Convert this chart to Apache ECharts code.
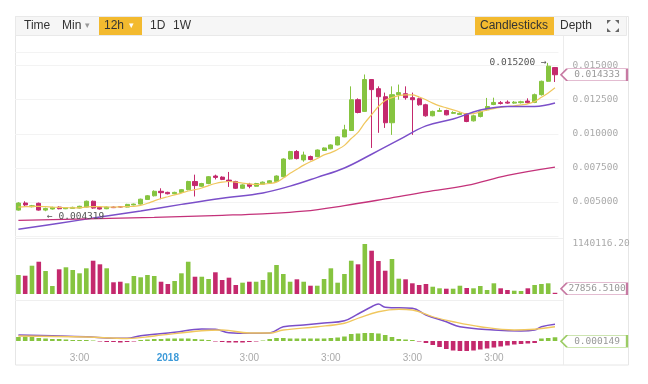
<!DOCTYPE html>
<html><head><meta charset="utf-8">
<script src="https://cdn.jsdelivr.net/npm/echarts/dist/echarts.min.js"></script>
<style>html,body{margin:0;padding:0;background:#fff}#c{width:648px;height:384px}</style>
</head><body><div id="c"></div>
<script>
// ---- data ----
const opens  = [0.00440,0.00492,0.00465,0.00490,0.00440,0.00448,0.00462,0.00450,0.00452,0.00455,
0.00462,0.00505,0.00460,0.00450,0.00462,0.00466,0.00462,0.00478,0.00484,0.00518,
0.00545,0.00578,0.00570,0.00560,0.00570,0.00590,0.00650,0.00615,0.00635,0.00690,
0.00682,0.00660,0.00650,0.00600,0.00630,0.00615,0.00630,0.00640,0.00650,0.00685,
0.00815,0.00870,0.00808,0.00833,0.00832,0.00878,0.00890,0.00918,0.00977,0.01024,
0.01250,0.01164,0.01398,0.01331,0.01272,0.01081,0.01287,0.01294,0.01265,0.01257,
0.01213,0.01132,0.01164,0.01171,0.01150,0.01142,0.01147,0.01095,0.01127,0.01176,
0.01215,0.01228,0.01232,0.01225,0.01228,0.01240,0.01230,0.01287,0.01385,0.01486];
const closes = [0.00492,0.00478,0.00472,0.00440,0.00452,0.00460,0.00450,0.00458,0.00460,0.00468,
0.00505,0.00455,0.00448,0.00462,0.00458,0.00462,0.00482,0.00484,0.00520,0.00545,
0.00578,0.00568,0.00560,0.00570,0.00590,0.00650,0.00620,0.00635,0.00685,0.00680,
0.00665,0.00652,0.00600,0.00625,0.00615,0.00635,0.00645,0.00655,0.00690,0.00815,
0.00870,0.00818,0.00844,0.00811,0.00881,0.00896,0.00918,0.00977,0.01029,0.01250,
0.01156,0.01398,0.01324,0.01272,0.01081,0.01287,0.01302,0.01265,0.01250,0.01213,
0.01132,0.01164,0.01171,0.01139,0.01156,0.01150,0.01090,0.01132,0.01164,0.01200,
0.01230,0.01222,0.01225,0.01232,0.01235,0.01228,0.01287,0.01385,0.01496,0.014333];
const lows   = [0.00436,0.00470,0.00460,0.00436,0.004319,0.00444,0.00446,0.00447,0.00449,0.00452,
0.00458,0.00450,0.00444,0.00447,0.00455,0.00458,0.00460,0.00475,0.00480,0.00515,
0.00540,0.00520,0.00555,0.00556,0.00566,0.00585,0.00540,0.00610,0.00630,0.00665,
0.00660,0.00610,0.00595,0.00595,0.00600,0.00612,0.00628,0.00635,0.00645,0.00680,
0.00810,0.00812,0.00795,0.00805,0.00828,0.00875,0.00886,0.00915,0.00975,0.01020,
0.01150,0.01160,0.00896,0.01007,0.01043,0.00992,0.01250,0.01250,0.00992,0.01206,
0.01125,0.01128,0.01160,0.01135,0.01145,0.01138,0.01085,0.01090,0.01120,0.01170,
0.01210,0.01215,0.01220,0.01220,0.01222,0.01222,0.01225,0.01280,0.01380,0.01380];
const highs  = [0.00498,0.00505,0.00478,0.00495,0.00458,0.00465,0.00468,0.00462,0.00465,0.00472,
0.00510,0.00510,0.00465,0.00466,0.00466,0.00470,0.00486,0.00488,0.00524,0.00550,
0.00585,0.00600,0.00575,0.00575,0.00595,0.00655,0.00700,0.00640,0.00690,0.00700,
0.00688,0.00720,0.00655,0.00630,0.00640,0.00640,0.00650,0.00660,0.00695,0.00820,
0.00875,0.00880,0.00869,0.00840,0.00885,0.00900,0.00922,0.00982,0.01066,0.01348,
0.01260,0.01435,0.01400,0.01348,0.01302,0.01348,0.01361,0.01348,0.01302,0.01265,
0.01220,0.01170,0.01190,0.01176,0.01165,0.01158,0.01150,0.01140,0.01170,0.01263,
0.01265,0.01240,0.01245,0.01240,0.01242,0.01260,0.01295,0.01390,0.01520,0.01490];
const volumes = [433000,417000,645000,736000,524000,182000,563000,609000,547000,472000,
586000,759000,677000,586000,267000,280000,244000,410000,381000,433000,
410000,280000,228000,296000,472000,736000,394000,394000,342000,495000,
319000,372000,205000,258000,280000,280000,319000,495000,661000,456000,
280000,335000,280000,189000,189000,342000,586000,258000,456000,759000,
677000,1140116.2,987000,752000,531000,798000,349000,335000,244000,205000,
228000,166000,130000,121000,121000,189000,137000,130000,182000,91000,
244000,130000,91000,75000,68000,130000,205000,228000,244000,27856.51];
// short moving average (yellow), one value per candle
const maFast = [0.00462,0.00465,0.00466,0.00468,0.00465,0.00462,0.00460,0.00458,0.00456,0.00457,
0.00462,0.00466,0.00465,0.00463,0.00462,0.00464,0.00466,0.00468,0.00475,0.00490,
0.00508,0.00525,0.00538,0.00552,0.00565,0.00580,0.00590,0.00602,0.00620,0.00635,
0.00645,0.00650,0.00645,0.00638,0.00632,0.00628,0.00630,0.00635,0.00645,0.00675,
0.00710,0.00740,0.00770,0.00795,0.00818,0.00845,0.00862,0.00885,0.00915,0.00965,
0.01010,0.01080,0.01140,0.01200,0.01245,0.01265,0.01280,0.01285,0.01285,0.01270,
0.01250,0.01225,0.01205,0.01190,0.01175,0.01160,0.01145,0.01148,0.01160,0.01175,
0.01185,0.01193,0.01200,0.01205,0.01212,0.01220,0.01236,0.01268,0.01300,0.01338];
// medium moving average (purple), read at some candles
const maMidIdx = [0,6,12,18,24,30,36,40,44,48,52,56,60,64,68,72,76,79];
const maMidVal = [0.00299,0.00344,0.00389,0.00434,0.00482,0.00527,0.00566,0.00616,0.00680,0.00749,0.00850,0.00955,0.01058,0.01108,0.01174,0.01201,0.01201,0.01226];
// long moving average (pink)
const maSlowIdx = [0,10,20,30,36,42,48,54,60,66,72,79];
const maSlowVal = [0.00365,0.00376,0.00387,0.00402,0.00413,0.00432,0.00473,0.00522,0.00574,0.00621,0.00695,0.00756];
// MACD panel
const difIdx = [0,5,10,14,16,18,23,27,29,31,34,37,39,42,45,48,50,52,53,54,58,60,63,65,70,74,76,77,79];
const difVal = [0.00068,0.00065,0.00061,0.00055,0.00055,0.00065,0.00079,0.00092,0.00091,0.00077,0.00075,0.00076,0.00101,0.00108,0.00116,0.00125,0.00152,0.00181,0.00192,0.00179,0.00175,0.00148,0.00121,0.00101,0.00088,0.00084,0.00088,0.00101,0.00111];
const deaIdx = [0,10,16,20,27,30,34,37,39,44,48,50,53,56,58,61,64,68,73,76,79];
const deaVal = [0.00064,0.00060,0.00054,0.00064,0.00085,0.00088,0.00076,0.00076,0.00088,0.00101,0.00115,0.00135,0.00161,0.00171,0.00168,0.00141,0.00121,0.00101,0.00088,0.00091,0.00101];
const macdHist = [0.00016,0.00018,0.00016,0.00012,0.0001,
0.00008,0.00008,0.00006,0.00004,0.00004,0.00004,0.00002,
-0.00002,-0.00004,-0.00004,-0.00006,-0.00004,-0.00002,
0.00004,0.00006,0.00008,0.00008,0.0001,0.0001,0.0001,0.0001,0.00008,0.00006,0.00004,
-0.00002,-0.00004,-0.00006,-0.00006,-0.00006,-0.00004,-0.00002,0.00002,
0.00008,0.00012,0.00012,0.0001,0.0001,0.0001,0.0001,0.0001,0.0001,0.00012,0.00014,0.00018,
0.00028,0.0003,0.00032,0.00032,0.0003,0.00024,0.00016,
0.00008,0.00006,0.00004,-0.00002,
-0.00008,-0.00016,-0.00024,-0.00032,-0.00038,-0.0004,-0.0004,-0.00038,-0.00034,-0.0003,-0.00026,-0.00022,-0.00018,-0.00014,-0.00012,-0.0001,-0.00008,
0.0001,0.00012,0.000149];
// x tick labels
const labelIdx = [9,22,34,46,58,70];
const labelTxt = ['3:00','2018','3:00','3:00','3:00','3:00'];
const priceTicks = {min:0.0025, max:0.016, step:0.0025};
const volMax = 1140116.2;

// ---- chart ----
const UP = '#86c440', DOWN = '#c4296d';
const MONO = 'DejaVu Sans Mono';
const n = opens.length;
const cats = Array.from({length:n}, (_, i) => String(i));
const ohlc = opens.map((o, i) => [o, closes[i], lows[i], highs[i]]);
const volData = volumes.map((v, i) => ({value:v, itemStyle:{color: closes[i] >= opens[i] ? UP : DOWN}}));
const histData = macdHist.map(v => ({value:v, itemStyle:{color: v >= 0 ? UP : DOWN}}));
const pairs = (idx, val) => idx.map((x, k) => [x, val[k]]);
const tagPath = 'path://M0,6L6,0L66,0L66,12L6,12Z';
function tag(coord, text, color, offY) {
  return {coord, value:text, symbol:tagPath, symbolSize:[66,12], symbolKeepAspect:false,
    symbolOffset:[39, offY], itemStyle:{color:'#fff', borderColor:color, borderWidth:1},
    label:{show:true, position:'inside', formatter:text, color:'#999', fontFamily:MONO, fontSize:9.5, offset:[3,0]}};
}
const chart = echarts.init(document.getElementById('c'));
const txt = (x, y, t, extra) => Object.assign({type:'text', x, y, silent:true,
  style:{text:t, fill:'#333', fontSize:12, fontFamily:'Liberation Sans', verticalAlign:'middle'}}, extra || {});
const tri = (pts) => ({type:'polygon', silent:true, shape:{points:pts}, style:{fill:'#666'}});
chart.setOption({
  animation:false,
  backgroundColor:'#fff',
  grid:[
    {left:15, width:543.4, top:52, height:184},
    {left:15, width:543.4, top:244, height:50},
    {left:15, width:543.4, top:302, height:50}
  ],
  xAxis:[0,1,2].map(g => ({type:'category', gridIndex:g, data:cats, boundaryGap:true,
    axisLine:{show:false}, axisTick:{show:false}, splitLine:{show:false},
    axisLabel: g < 2 ? {show:false} : {show:true, interval:0, margin:1, color:'#aaa', fontSize:10, fontFamily:'Liberation Sans',
      formatter:(v, i) => { const k = labelIdx.indexOf(i); if (k < 0) return ''; return labelTxt[k] === '2018' ? '{y|2018}' : labelTxt[k]; },
      rich:{y:{color:'#3d9ad8', fontWeight:'bold', fontSize:10, fontFamily:'Liberation Sans'}}}
  })),
  yAxis:[
    {gridIndex:0, position:'right', scale:false, min:priceTicks.min, max:priceTicks.max, interval:priceTicks.step,
      axisLine:{show:false}, axisTick:{show:false}, splitLine:{show:true, lineStyle:{color:'#f3f3f3'}},
      axisLabel:{color:'#aaa', fontFamily:MONO, fontSize:9.5, margin:14, showMinLabel:false, showMaxLabel:false,
        formatter:v => v.toFixed(6)}},
    {gridIndex:1, position:'right', min:0, max:volMax, interval:volMax,
      axisLine:{show:false}, axisTick:{show:false}, splitLine:{show:false},
      axisLabel:{color:'#aaa', fontFamily:MONO, fontSize:9.5, margin:14, formatter:v => v > 0 ? v.toFixed(2) : ''}},
    {gridIndex:2, min:-0.00044, max:0.00156, show:false, splitLine:{show:false}},
    {gridIndex:2, min:0, max:0.002, show:false, splitLine:{show:false}}
  ],
  series:[
    {type:'candlestick', xAxisIndex:0, yAxisIndex:0, data:ohlc, barWidth:4.6,
      itemStyle:{color:UP, color0:DOWN, borderColor:UP, borderColor0:DOWN, borderWidth:1},
      markPoint:{silent:true, data:[
        tag([n-1, closes[n-1]], closes[n-1].toFixed(6), '#c77aa3', 0),
        {coord:[78, 0.0152], symbol:'circle', symbolSize:1, itemStyle:{color:'rgba(0,0,0,0)'},
          label:{show:true, position:'left', distance:1, formatter:'0.015200 →', color:'#555', fontFamily:MONO, fontSize:9.5}},
        {coord:[4, 0.004319], symbol:'circle', symbolSize:1, itemStyle:{color:'rgba(0,0,0,0)'},
          label:{show:true, position:'right', distance:1, offset:[0,5], formatter:'← 0.004319', color:'#555', fontFamily:MONO, fontSize:9.5}}
      ]}},
    {type:'line', xAxisIndex:0, yAxisIndex:0, data:maFast, showSymbol:false, smooth:0.3, lineStyle:{color:'#f0c75e', width:1.2}, z:3},
    {type:'line', xAxisIndex:0, yAxisIndex:0, data:pairs(maMidIdx, maMidVal), showSymbol:false, smooth:0.4, lineStyle:{color:'#7b4fc9', width:1.5}, z:3},
    {type:'line', xAxisIndex:0, yAxisIndex:0, data:pairs(maSlowIdx, maSlowVal), showSymbol:false, smooth:0.4, lineStyle:{color:'#c4327a', width:1.3}, z:3},
    {type:'bar', xAxisIndex:1, yAxisIndex:1, data:volData, barWidth:4.6,
      markPoint:{silent:true, data:[tag([n-1, volumes[n-1]], volumes[n-1].toFixed(4), '#c77aa3', -4)]}},
    {type:'bar', xAxisIndex:2, yAxisIndex:2, data:histData, barWidth:4.6,
      markPoint:{silent:true, data:[tag([n-1, macdHist[n-1]], macdHist[n-1].toFixed(6), '#9ccc65', 4)]}},
    {type:'line', xAxisIndex:2, yAxisIndex:3, data:pairs(difIdx, difVal), showSymbol:false, smooth:0.4, lineStyle:{color:'#7b4fc9', width:1.5}},
    {type:'line', xAxisIndex:2, yAxisIndex:3, data:pairs(deaIdx, deaVal), showSymbol:false, smooth:0.4, lineStyle:{color:'#f0c75e', width:1.3}}
  ],
  graphic:[
    {type:'rect', silent:true, z:-10, shape:{x:15.5, y:16.5, width:613, height:348.5}, style:{fill:'none', stroke:'#e6e6e6'}},
    {type:'rect', silent:true, z:-9, shape:{x:15.5, y:16.5, width:611, height:19}, style:{fill:'#f6f6f6', stroke:'#e9e9e9'}},
    {type:'line', silent:true, shape:{x1:563.5, y1:36, x2:563.5, y2:365}, style:{stroke:'#ececec'}},
    {type:'line', silent:true, shape:{x1:15, y1:238.5, x2:563, y2:238.5}, style:{stroke:'#efefef'}},
    {type:'line', silent:true, shape:{x1:15, y1:300.5, x2:563, y2:300.5}, style:{stroke:'#efefef'}},
    {type:'rect', silent:true, shape:{x:99, y:17, width:43, height:18}, style:{fill:'#f3ba2f'}},
    {type:'rect', silent:true, shape:{x:475, y:17, width:79, height:18}, style:{fill:'#f3ba2f'}},
    txt(24, 26, 'Time'),
    txt(62, 26, 'Min'),
    txt(85, 26, '▾', {style:{text:'▾', fill:'#999', fontSize:9, fontFamily:'DejaVu Sans', verticalAlign:'middle'}}),
    txt(104, 26, '12h'),
    txt(129, 26, '▾', {style:{text:'▾', fill:'#fff', fontSize:9, fontFamily:'DejaVu Sans', verticalAlign:'middle'}}),
    txt(150, 26, '1D'),
    txt(173, 26, '1W'),
    txt(480, 26, 'Candlesticks'),
    txt(560, 26, 'Depth'),
    tri([[607,20],[611,20],[607,24]]),
    tri([[619,20],[615,20],[619,24]]),
    tri([[607,32],[611,32],[607,28]]),
    tri([[619,32],[615,32],[619,28]])
  ]
});
</script></body></html>
